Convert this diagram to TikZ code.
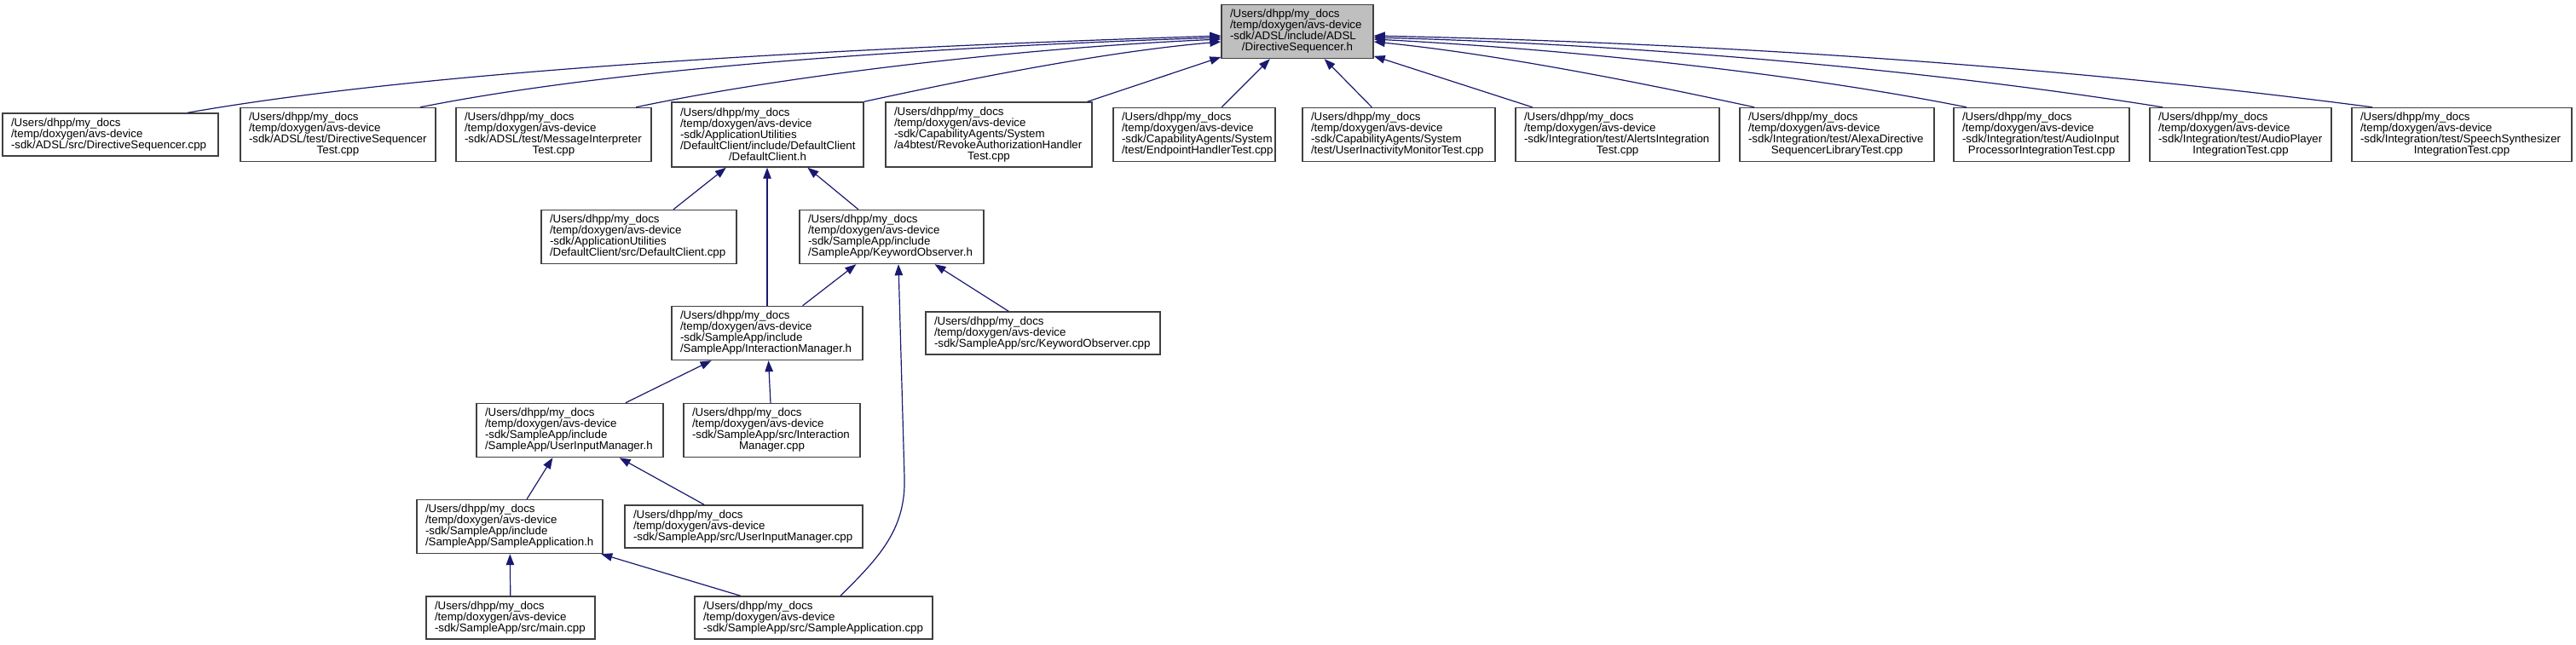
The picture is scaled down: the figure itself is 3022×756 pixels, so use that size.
\documentclass[tikz,border=0pt]{standalone}
\usepackage{fontspec}
\setmainfont{Liberation Sans}
\usetikzlibrary{arrows.meta}
\definecolor{edgeblue}{RGB}{25,25,112}
\newcommand{\fsz}{\fontsize{13.3}{13}\selectfont\hyphenpenalty=10000\exhyphenpenalty=10000\parindent=0pt}
\newcommand{\lastln}[1]{\hspace*{\fill}#1\hspace*{\fill}\mbox{}}
\tikzset{
  file/.style={draw=black!75, line width=1.4pt, fill=white, align=flush left,
               inner xsep=10pt, inner ysep=0pt, font=\fsz, text width=#1pt},
  l3/.style={minimum height=50pt},
  l4/.style={minimum height=63pt},
  l5/.style={minimum height=76pt},
  root/.style={fill=black!25},
  dep/.style={edgeblue, line width=1.2pt, {Triangle[length=13pt,width=9.5pt]}-},
}
\begin{document}
\begin{tikzpicture}[x=1pt,y=-1pt]
  \useasboundingbox (0,0) rectangle (3022,756);
  % included header
  \node[file=158,l4,root] (root) at (1522,37) {/Users/dhpp/my\_docs\\/temp/doxygen/avs-device\\-sdk/ADSL/include/ADSL\\\lastln{/DirectiveSequencer.h}};
  % files that include it directly
  \node[file=233,l3] (dsc) at (129.5,158) {/Users/dhpp/my\_docs\\/temp/doxygen/avs-device\\-sdk/ADSL/src/DirectiveSequencer.cpp};
  \node[file=209,l4] (dst) at (396.5,158) {/Users/dhpp/my\_docs\\/temp/doxygen/avs-device\\-sdk/ADSL/test/DirectiveSequencer\\\lastln{Test.cpp}};
  \node[file=209,l4] (mit) at (649.5,158) {/Users/dhpp/my\_docs\\/temp/doxygen/avs-device\\-sdk/ADSL/test/MessageInterpreter\\\lastln{Test.cpp}};
  \node[file=205,l5] (dch) at (900.5,158) {/Users/dhpp/my\_docs\\/temp/doxygen/avs-device\\-sdk/ApplicationUtilities\\/DefaultClient/include/DefaultClient\\\lastln{/DefaultClient.h}};
  \node[file=222,l5] (rah) at (1160,158) {/Users/dhpp/my\_docs\\/temp/doxygen/avs-device\\-sdk/CapabilityAgents/System\\/a4btest/RevokeAuthorizationHandler\\\lastln{Test.cpp}};
  \node[file=170,l4] (eht) at (1401,158) {/Users/dhpp/my\_docs\\/temp/doxygen/avs-device\\-sdk/CapabilityAgents/System\\/test/EndpointHandlerTest.cpp};
  \node[file=206,l4] (uimt) at (1641,158) {/Users/dhpp/my\_docs\\/temp/doxygen/avs-device\\-sdk/CapabilityAgents/System\\/test/UserInactivityMonitorTest.cpp};
  \node[file=219,l4] (ait) at (1897.5,158) {/Users/dhpp/my\_docs\\/temp/doxygen/avs-device\\-sdk/Integration/test/AlertsIntegration\\\lastln{Test.cpp}};
  \node[file=208,l4] (adsl) at (2155,158) {/Users/dhpp/my\_docs\\/temp/doxygen/avs-device\\-sdk/Integration/test/AlexaDirective\\\lastln{SequencerLibraryTest.cpp}};
  \node[file=186,l4] (aip) at (2395,158) {/Users/dhpp/my\_docs\\/temp/doxygen/avs-device\\-sdk/Integration/test/AudioInput\\\lastln{ProcessorIntegrationTest.cpp}};
  \node[file=193,l4] (api) at (2628.5,158) {/Users/dhpp/my\_docs\\/temp/doxygen/avs-device\\-sdk/Integration/test/AudioPlayer\\\lastln{IntegrationTest.cpp}};
  \node[file=238,l4] (ssi) at (2888,158) {/Users/dhpp/my\_docs\\/temp/doxygen/avs-device\\-sdk/Integration/test/SpeechSynthesizer\\\lastln{IntegrationTest.cpp}};
  % sample app chain
  \node[file=209,l4] (dcc) at (749.5,278) {/Users/dhpp/my\_docs\\/temp/doxygen/avs-device\\-sdk/ApplicationUtilities\\/DefaultClient/src/DefaultClient.cpp};
  \node[file=196,l4] (kwo) at (1046,278) {/Users/dhpp/my\_docs\\/temp/doxygen/avs-device\\-sdk/SampleApp/include\\/SampleApp/KeywordObserver.h};
  \node[file=204,l4] (imh) at (900,391) {/Users/dhpp/my\_docs\\/temp/doxygen/avs-device\\-sdk/SampleApp/include\\/SampleApp/InteractionManager.h};
  \node[file=255,l3] (kwc) at (1223.5,391) {/Users/dhpp/my\_docs\\/temp/doxygen/avs-device\\-sdk/SampleApp/src/KeywordObserver.cpp};
  \node[file=199,l4] (uih) at (668.5,505) {/Users/dhpp/my\_docs\\/temp/doxygen/avs-device\\-sdk/SampleApp/include\\/SampleApp/UserInputManager.h};
  \node[file=187,l4] (imc) at (905.5,505) {/Users/dhpp/my\_docs\\/temp/doxygen/avs-device\\-sdk/SampleApp/src/Interaction\\\lastln{Manager.cpp}};
  \node[file=198,l4] (sah) at (598,618) {/Users/dhpp/my\_docs\\/temp/doxygen/avs-device\\-sdk/SampleApp/include\\/SampleApp/SampleApplication.h};
  \node[file=259,l3] (uic) at (872.5,618) {/Users/dhpp/my\_docs\\/temp/doxygen/avs-device\\-sdk/SampleApp/src/UserInputManager.cpp};
  \node[file=178,l3] (mnc) at (599,725) {/Users/dhpp/my\_docs\\/temp/doxygen/avs-device\\-sdk/SampleApp/src/main.cpp};
  \node[file=259,l3] (sac) at (954.5,725) {/Users/dhpp/my\_docs\\/temp/doxygen/avs-device\\-sdk/SampleApp/src/SampleApplication.cpp};
  % edges into the header
  \draw[dep] ([yshift=-5pt]root.west) .. controls +(-400,13) and +(300,-53) .. ([xshift=90.5pt]dsc.north);
  \draw[dep] ([yshift=-7pt]root.west) .. controls +(-300,10) and +(250,-50) .. ([xshift=96.5pt]dst.north);
  \draw[dep] ([yshift=-9pt]root.west) .. controls +(-230,10) and +(180,-38) .. ([xshift=96.5pt]mit.north);
  \draw[dep] ([yshift=-12pt]root.west) .. controls +(-140,12) and +(110,-24) .. (dch.north east);
  \draw[dep] (root) -- (rah);
  \draw[dep] (root) -- (eht);
  \draw[dep] (root) -- (uimt);
  \draw[dep] (root) -- (ait);
  \draw[dep] ([yshift=-12pt]root.east) .. controls +(150,15) and +(-120,-26) .. ([xshift=-97pt]adsl.north);
  \draw[dep] ([yshift=-9pt]root.east) .. controls +(230,12) and +(-200,-40) .. ([xshift=-88pt]aip.north);
  \draw[dep] ([yshift=-7pt]root.east) .. controls +(300,8) and +(-280,-45) .. ([xshift=-91.5pt]api.north);
  \draw[dep] ([yshift=-5pt]root.east) .. controls +(380,8) and +(-380,-50) .. ([xshift=-105pt]ssi.north);
  % lower levels
  \draw[dep] (dch) -- (dcc);
  \draw[dep] (dch.south -| imh.north) -- (imh.north);
  \draw[dep] (dch) -- (kwo);
  \draw[dep] (kwo) -- (imh);
  \draw[dep] (kwo) -- (kwc);
  \draw[dep] ([xshift=8pt]kwo.south) -- ++(7,250) .. controls +(2,62) and +(44,-44) .. ([xshift=31.5pt]sac.north);
  \draw[dep] (imh) -- (uih);
  \draw[dep] (imh) -- (imc);
  \draw[dep] (uih) -- (sah);
  \draw[dep] (uih) -- (uic);
  \draw[dep] (sah) -- (mnc);
  \draw[dep] (sah) -- (sac);
\end{tikzpicture}
\end{document}
